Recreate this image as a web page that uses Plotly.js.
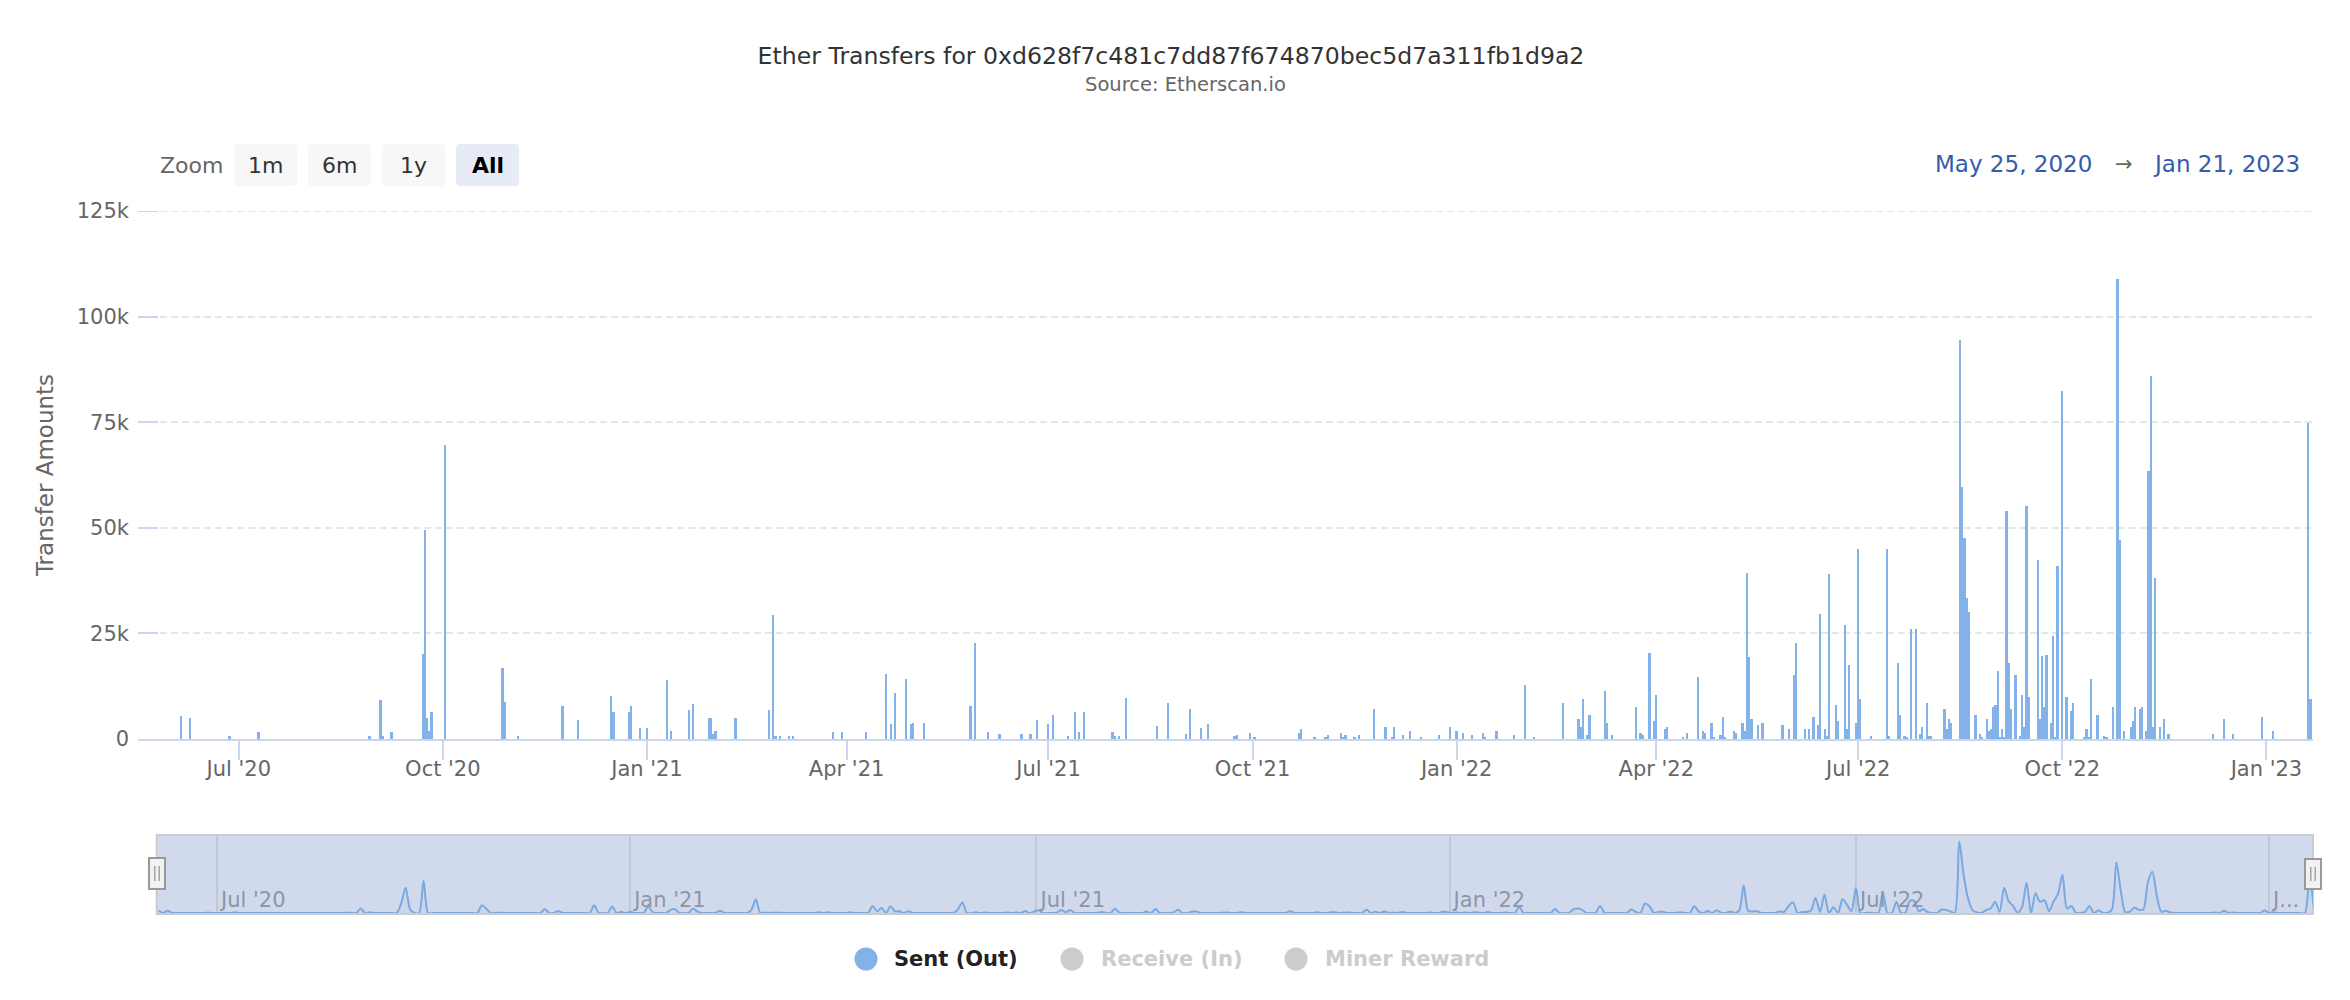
<!DOCTYPE html>
<html>
<head>
<meta charset="utf-8">
<script src="https://cdn.plot.ly/plotly-3.0.1.min.js"></script>
<style>
html,body{margin:0;padding:0;background:#ffffff;}
#chart{width:2350px;height:1000px;}
</style>
</head>
<body>
<div id="chart"></div>
<script>
// ---------------- DATA ----------------
const chartTitle = 'Ether Transfers for 0xd628f7c481c7dd87f674870bec5d7a311fb1d9a2';
const chartSubtitle = 'Source: Etherscan.io';
const yAxisTitle = 'Transfer Amounts';
const legendNames = ['Sent (Out)', 'Receive (In)', 'Miner Reward'];
const zoomLabel = 'Zoom';
const zoomButtons = ['1m', '6m', '1y', 'All'];
const rangeFromText = 'May 25, 2020';
const rangeToText = 'Jan 21, 2023';
const yAxisMax = 125000;
const navTickValues = ['2020-07-01', '2021-01-01', '2021-07-01', '2022-01-01', '2022-07-01', '2023-01-01'];
const navTickLabels = ["Jul '20", "Jan '21", "Jul '21", "Jan '22", "Jul '22", "J..."];

const sentDates = [
 '2020-06-05','2020-06-09','2020-06-27','2020-07-10','2020-08-29','2020-09-03','2020-09-04','2020-09-08',
 '2020-09-22','2020-09-23','2020-09-24','2020-09-25','2020-09-26','2020-10-02','2020-10-28','2020-10-29',
 '2020-11-04','2020-11-24','2020-12-01','2020-12-16','2020-12-17','2020-12-24','2020-12-25','2020-12-29',
 '2021-01-01','2021-01-10','2021-01-12','2021-01-20','2021-01-22','2021-01-29','2021-01-30','2021-01-31',
 '2021-02-01','2021-02-10','2021-02-25','2021-02-27','2021-02-28','2021-03-02','2021-03-06','2021-03-08',
 '2021-03-26','2021-03-30','2021-04-10','2021-04-19','2021-04-21','2021-04-23','2021-04-28','2021-04-30',
 '2021-05-01','2021-05-06','2021-05-27','2021-05-29','2021-06-04','2021-06-09','2021-06-19','2021-06-23',
 '2021-06-26','2021-07-01','2021-07-03','2021-07-10','2021-07-13','2021-07-15','2021-07-17','2021-07-30',
 '2021-07-31','2021-08-02','2021-08-05','2021-08-19','2021-08-24','2021-09-01','2021-09-03','2021-09-08',
 '2021-09-11','2021-09-23','2021-09-24','2021-09-30','2021-10-02','2021-10-22','2021-10-23','2021-10-29',
 '2021-11-03','2021-11-04','2021-11-10','2021-11-11','2021-11-12','2021-11-16','2021-11-18','2021-11-25',
 '2021-11-30','2021-12-03','2021-12-04','2021-12-08','2021-12-11','2021-12-16','2021-12-24','2021-12-29',
 '2022-01-01','2022-01-04','2022-01-08','2022-01-13','2022-01-14','2022-01-19','2022-01-27','2022-02-01',
 '2022-02-05','2022-02-18','2022-02-25','2022-02-26','2022-02-27','2022-03-01','2022-03-02','2022-03-09',
 '2022-03-10','2022-03-12','2022-03-23','2022-03-25','2022-03-26','2022-03-29','2022-03-31','2022-04-01',
 '2022-04-05','2022-04-06','2022-04-13','2022-04-15','2022-04-20','2022-04-22','2022-04-23','2022-04-26',
 '2022-04-27','2022-04-30','2022-05-01','2022-05-02','2022-05-06','2022-05-07','2022-05-10','2022-05-11',
 '2022-05-12','2022-05-13','2022-05-14','2022-05-17','2022-05-19','2022-05-28','2022-05-31','2022-06-02',
 '2022-06-03','2022-06-07','2022-06-09','2022-06-11','2022-06-13','2022-06-14','2022-06-16','2022-06-17',
 '2022-06-18','2022-06-21','2022-06-22','2022-06-25','2022-06-26','2022-06-27','2022-06-30','2022-07-01',
 '2022-07-02','2022-07-07','2022-07-14','2022-07-15','2022-07-19','2022-07-20','2022-07-22','2022-07-23',
 '2022-07-25','2022-07-27','2022-07-29','2022-07-30','2022-08-01','2022-08-02','2022-08-03','2022-08-09',
 '2022-08-10','2022-08-11','2022-08-12','2022-08-16','2022-08-17','2022-08-18','2022-08-19','2022-08-20',
 '2022-08-23','2022-08-25','2022-08-26','2022-08-28','2022-08-29','2022-08-30','2022-08-31','2022-09-01',
 '2022-09-02','2022-09-03','2022-09-04','2022-09-05','2022-09-06','2022-09-07','2022-09-08','2022-09-10',
 '2022-09-12','2022-09-13','2022-09-14','2022-09-15','2022-09-16','2022-09-20','2022-09-21','2022-09-22',
 '2022-09-23','2022-09-24','2022-09-26','2022-09-27','2022-09-28','2022-09-29','2022-10-01','2022-10-03',
 '2022-10-05','2022-10-06','2022-10-11','2022-10-12','2022-10-13','2022-10-14','2022-10-17','2022-10-20',
 '2022-10-21','2022-10-24','2022-10-26','2022-10-27','2022-10-29','2022-11-01','2022-11-02','2022-11-03',
 '2022-11-05','2022-11-06','2022-11-08','2022-11-09','2022-11-10','2022-11-11','2022-11-12','2022-11-14',
 '2022-11-16','2022-11-18','2022-12-08','2022-12-13','2022-12-17','2022-12-30','2023-01-04','2023-01-20',
 '2023-01-21'
];
const sentValues = [
 5400,4900,600,1600,600,9200,600,1600,
 20100,49500,4900,2000,6300,69500,16800,8700,
 600,7800,4400,10100,6300,6300,7800,2500,
 2500,13900,2000,6800,8200,4900,4900,1100,
 2000,4900,6800,29400,600,600,600,600,
 1600,1600,1600,15300,3500,11000,14300,3500,
 3900,3900,7700,22800,1600,1100,1100,1100,
 4400,3500,5800,600,6300,1600,6300,1600,
 600,600,9600,3000,8600,1100,7200,2500,
 3500,600,1000,1400,500,1400,2400,500,
 500,900,1400,500,900,500,900,7100,
 2800,500,2800,900,1900,500,900,2800,
 1900,1400,900,1400,500,1900,900,12800,
 500,8500,4700,2800,9500,900,5700,11400,
 3800,900,7600,1400,900,20400,4300,10400,
 2400,2800,500,1400,14700,1900,1400,3800,
 500,900,5200,500,1900,1400,3800,1900,
 39400,19500,4700,3300,3800,3300,2400,15200,
 22800,2300,2300,5200,3300,29500,2300,800,
 39000,8000,4200,27100,2300,17600,3700,44900,
 9500,800,44900,800,18100,5700,800,300,
 26100,26100,1300,2800,8500,800,800,7000,
 2300,4700,3700,94400,59600,47700,33300,30000,
 5700,1300,300,4700,1800,2300,7500,8000,
 16200,300,2300,300,53900,18100,7000,15200,
 800,10400,2800,55200,9900,42300,4700,19600,
 7500,19900,3700,24300,300,41000,82500,9900,
 6700,8500,300,2300,300,14200,5700,800,
 300,7500,108800,47200,1800,2800,4200,7500,
 7000,7500,1800,63400,85900,2800,38200,2800,
 4700,1300,1300,4700,1300,5200,1800,74800,
 9500
];

// ---------------- GEOMETRY HELPERS (pixels -> paper) ----------------
const W = 2350, H = 1000;
const PL = 138, PR = 2313, PT = 211, PB = 914;
const fx = p => (p - PL) / (PR - PL);
const fy = p => (PB - p) / (PB - PT);
const FONT = 'DejaVu Sans, Verdana, sans-serif';
const barColor = '#82b2e8';

// navigator series: 2-day averages of the daily sent values (derived from the data above)
const DAY = 86400000;
const GROUP_DAYS = 2;
const valueByDay = {};
sentDates.forEach((d, i) => { valueByDay[d] = sentValues[i]; });
const navStart = Date.parse(sentDates[0] + 'T00:00:00Z');
const navEnd = Date.parse(sentDates[sentDates.length - 1] + 'T00:00:00Z');
const navX = [], navY = [];
for (let t = navStart; t <= navEnd; t += GROUP_DAYS * DAY) {
  let s = 0;
  for (let k = 0; k < GROUP_DAYS; k++) {
    const key = new Date(t + k * DAY).toISOString().slice(0, 10);
    s += valueByDay[key] || 0;
  }
  navX.push(new Date(t).toISOString().slice(0, 10));
  navY.push(s / GROUP_DAYS);
}
const navMax = Math.max.apply(null, navY);

// rounded rectangle path in paper coords
function rrect(x0, y0, x1, y1, r) {
  const P = (x, y) => fx(x) + ',' + fy(y);
  return 'M' + P(x0 + r, y0) + ' L' + P(x1 - r, y0) + ' Q' + P(x1, y0) + ' ' + P(x1, y0 + r) +
    ' L' + P(x1, y1 - r) + ' Q' + P(x1, y1) + ' ' + P(x1 - r, y1) +
    ' L' + P(x0 + r, y1) + ' Q' + P(x0, y1) + ' ' + P(x0, y1 - r) +
    ' L' + P(x0, y0 + r) + ' Q' + P(x0, y0) + ' ' + P(x0 + r, y0) + ' Z';
}

// ---------------- TRACES ----------------
const traces = [
  {
    type: 'bar', name: legendNames[0], x: sentDates, y: sentValues,
    xaxis: 'x', yaxis: 'y', width: 0.8 * DAY,
    marker: { color: barColor, line: { width: 0 } },
    hovertemplate: '%{x|%b %d, %Y}<br>%{y:,}<extra></extra>'
  },
  {
    type: 'scatter', mode: 'lines', x: navX, y: navY, xaxis: 'x2', yaxis: 'y2',
    line: { color: '#7aa9e0', width: 2, shape: 'spline', smoothing: 0.8 },
    fill: 'tozeroy', fillcolor: 'rgba(124,181,236,0.05)', hoverinfo: 'skip'
  }
];

// ---------------- SHAPES ----------------
const shapes = [];
// top gridline + tick of the value axis (sits exactly on the plot edge, so Plotly omits it)
shapes.push({ type: 'line', xref: 'paper', yref: 'y', layer: 'below', x0: 0, x1: 1, y0: yAxisMax, y1: yAxisMax,
  line: { color: '#e6e6e6', width: 2, dash: '7px,4px' } });
shapes.push({ type: 'line', xref: 'paper', yref: 'y', x0: 0, x1: fx(158), y0: yAxisMax, y1: yAxisMax,
  line: { color: '#ccd6eb', width: 2 } });
// navigator mask
shapes.push({ type: 'rect', xref: 'paper', yref: 'paper', layer: 'below',
  x0: fx(156.7), x1: fx(2313), y0: fy(914), y1: fy(835),
  fillcolor: 'rgba(102,133,194,0.3)', line: { color: '#cccccc', width: 2 } });
// navigator handles
[[149, 165, 858, 889], [2305, 2321, 859, 889]].forEach(h => {
  shapes.push({ type: 'rect', xref: 'paper', yref: 'paper',
    x0: fx(h[0]), x1: fx(h[1]), y0: fy(h[3]), y1: fy(h[2]),
    fillcolor: '#f2f2f2', line: { color: '#999999', width: 2 } });
  const cx = (h[0] + h[1]) / 2;
  [cx - 2.2, cx + 2.2].forEach(lx => shapes.push({ type: 'line', xref: 'paper', yref: 'paper',
    x0: fx(lx), x1: fx(lx), y0: fy(h[2] + 8), y1: fy(h[3] - 8), line: { color: '#999999', width: 1.3 } }));
});
// zoom buttons
const btnX = [234, 308, 382, 456], btnW = 63;
zoomButtons.forEach((b, i) => {
  shapes.push({ type: 'path', xref: 'paper', yref: 'paper', path: rrect(btnX[i], 144, btnX[i] + btnW, 186, 4),
    fillcolor: b === 'All' ? '#e6ebf5' : '#f7f7f7', line: { width: 0 } });
});
// legend symbols
const legX = [866, 1072, 1296], legTextX = [892, 1099, 1323], legY = 959, legR = 11.5;
legendNames.forEach((n, i) => {
  shapes.push({ type: 'circle', xref: 'paper', yref: 'paper',
    x0: fx(legX[i] - legR), x1: fx(legX[i] + legR), y0: fy(legY + legR), y1: fy(legY - legR),
    fillcolor: i === 0 ? barColor : '#cccccc', line: { width: 0 } });
});

// ---------------- ANNOTATIONS ----------------
const ann = [];
ann.push({ text: chartSubtitle, xref: 'paper', yref: 'paper', x: fx(1185), y: fy(84), xanchor: 'center', yanchor: 'middle',
  showarrow: false, font: { family: FONT, size: 19.5, color: '#666666' } });
ann.push({ text: zoomLabel, xref: 'paper', yref: 'paper', x: fx(191), y: fy(165), xanchor: 'center', yanchor: 'middle',
  showarrow: false, font: { family: FONT, size: 22, color: '#666666' } });
zoomButtons.forEach((b, i) => {
  ann.push({ text: b === 'All' ? '<b>' + b + '</b>' : b, xref: 'paper', yref: 'paper', x: fx(btnX[i] + btnW / 2), y: fy(165),
    xanchor: 'center', yanchor: 'middle', showarrow: false,
    font: { family: FONT, size: 22, color: b === 'All' ? '#000000' : '#333333' } });
});
ann.push({ text: rangeFromText, xref: 'paper', yref: 'paper', x: fx(2094), y: fy(164), xanchor: 'right', yanchor: 'middle',
  showarrow: false, font: { family: FONT, size: 23, color: '#335cad' } });
ann.push({ text: '→', xref: 'paper', yref: 'paper', x: fx(2124), y: fy(164), xanchor: 'center', yanchor: 'middle',
  showarrow: false, font: { family: FONT, size: 21, color: '#666666' } });
ann.push({ text: rangeToText, xref: 'paper', yref: 'paper', x: fx(2302), y: fy(164), xanchor: 'right', yanchor: 'middle',
  showarrow: false, font: { family: FONT, size: 23, color: '#335cad' } });
legendNames.forEach((n, i) => {
  ann.push({ text: '<b>' + n + '</b>', xref: 'paper', yref: 'paper', x: fx(legTextX[i]), y: fy(legY), xanchor: 'left', yanchor: 'middle',
    showarrow: false, font: { family: FONT, size: 21, color: i === 0 ? '#222222' : '#cccccc' } });
});

// ---------------- LAYOUT ----------------
const layout = {
  width: W, height: H,
  margin: { l: PL, r: W - PR, t: PT, b: H - PB, pad: 0 },
  paper_bgcolor: '#ffffff', plot_bgcolor: 'rgba(0,0,0,0)',
  font: { family: FONT, size: 21, color: '#666666' },
  showlegend: false,
  bargap: 0,
  title: { text: chartTitle, x: 1171 / W, xref: 'container', xanchor: 'center', y: 1 - 56 / H, yref: 'container', yanchor: 'middle',
    font: { family: FONT, size: 23.6, color: '#333333' } },
  xaxis: {
    type: 'date', domain: [0, 1], anchor: 'y', range: ['2020-05-16 14:00', '2023-01-22 00:00'],
    showgrid: false, zeroline: false, showline: true, linecolor: '#ccd6eb', linewidth: 2,
    ticks: 'outside', ticklen: 19, tickwidth: 2, tickcolor: '#ccd6eb', ticklabelstandoff: -9,
    dtick: 'M3', tick0: '2020-01-01', tickformat: "%b '%y",
    tickfont: { family: FONT, size: 21, color: '#666666' }
  },
  yaxis: {
    domain: [fy(739), 1], anchor: 'x', range: [0, yAxisMax], dtick: 25000, tick0: 0, tickformat: '~s',
    showgrid: true, gridcolor: '#e6e6e6', gridwidth: 2, griddash: '7px,4px', zeroline: false, showline: false,
    ticks: 'inside', ticklen: 20, tickwidth: 2, tickcolor: '#ccd6eb', ticklabelstandoff: 8,
    tickfont: { family: FONT, size: 21, color: '#666666' },
    title: { text: yAxisTitle, font: { family: FONT, size: 23, color: '#666666' }, standoff: 16 }
  },
  xaxis2: {
    type: 'date', domain: [fx(156.7), 1], anchor: 'y2', range: ['2020-06-04 03:00', '2023-01-20 14:00'],
    showgrid: true, gridcolor: '#c0c7d7', gridwidth: 2, zeroline: false, showline: false,
    tickmode: 'array', tickvals: navTickValues, ticktext: navTickLabels,
    ticks: '', ticklabelposition: 'inside right', ticklabelshift: 4, ticklabelstandoff: -4,
    tickfont: { family: FONT, size: 21, color: '#8e95a5' }
  },
  yaxis2: {
    domain: [fy(913), fy(836)], anchor: 'x2', range: [0, navMax / 0.93],
    showgrid: false, zeroline: false, showline: false, showticklabels: false, ticks: ''
  },
  shapes: shapes,
  annotations: ann
};

Plotly.newPlot('chart', traces, layout, { displayModeBar: false, responsive: false });
</script>
</body>
</html>
